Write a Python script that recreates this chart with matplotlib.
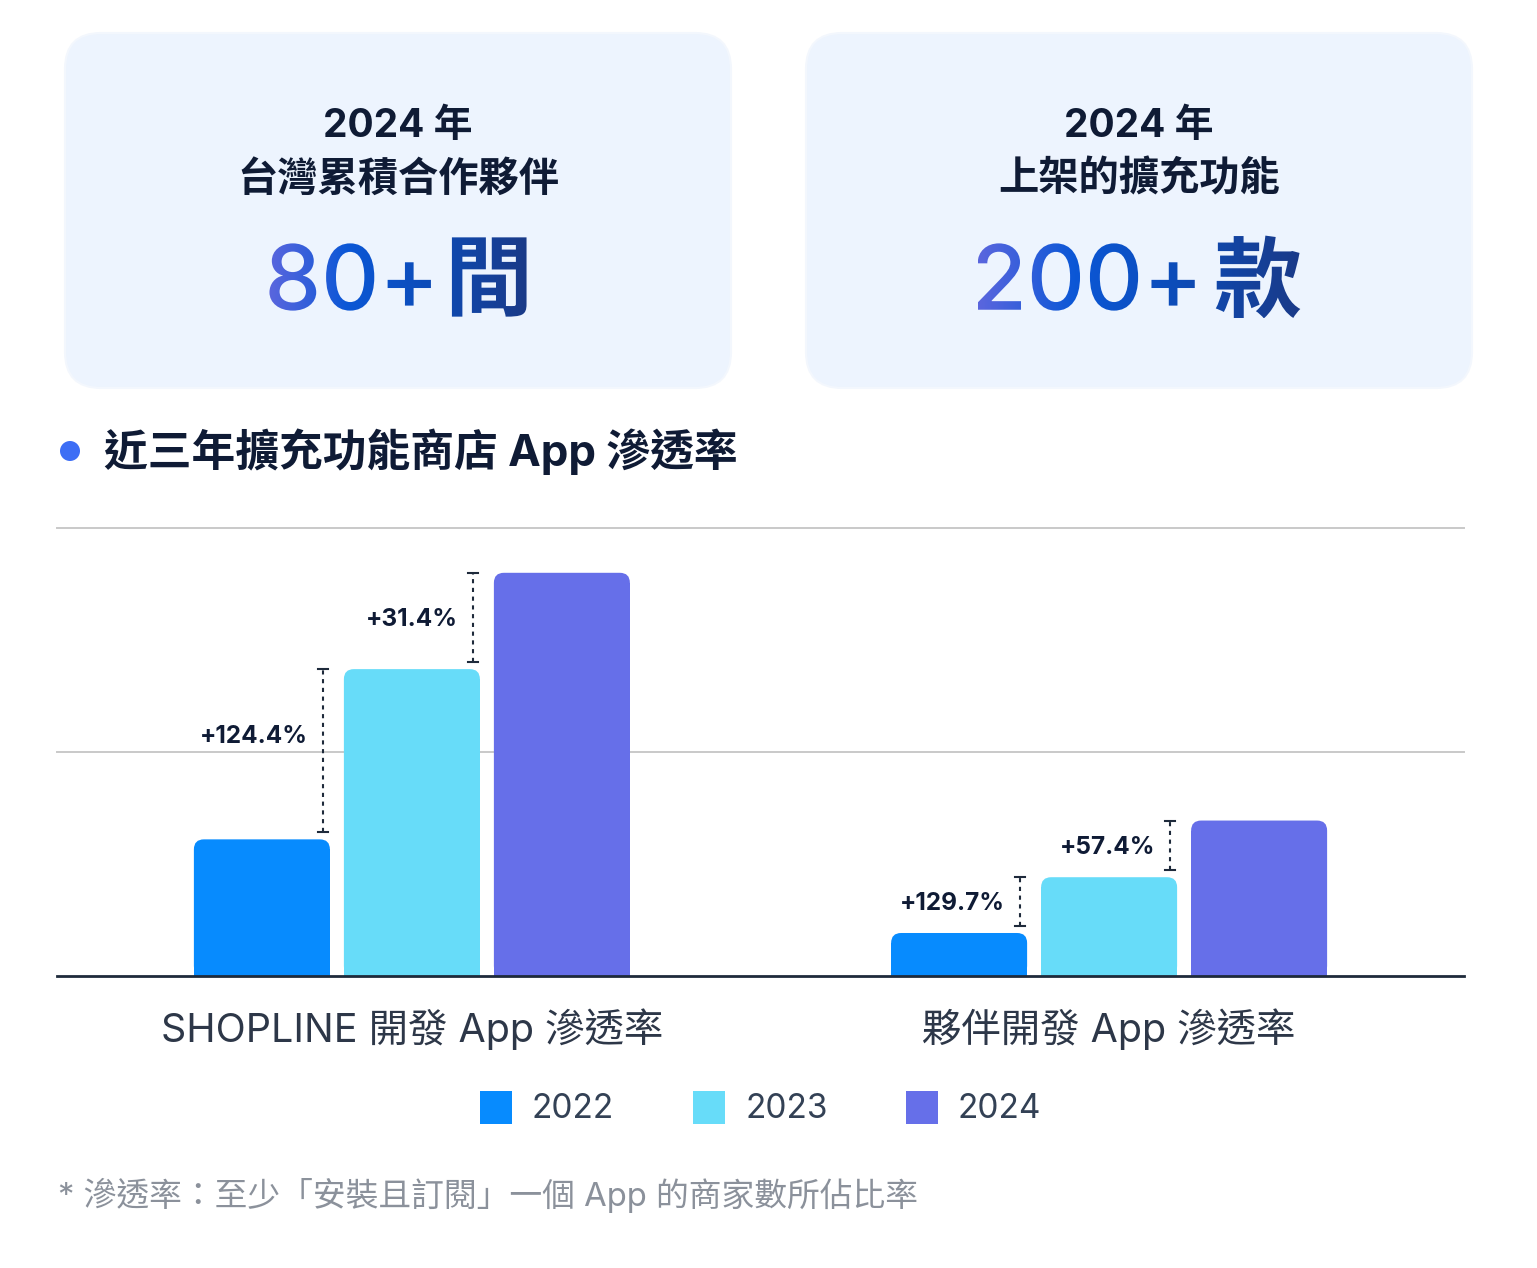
import numpy as np
import matplotlib
matplotlib.use("Agg")
import matplotlib.pyplot as plt
from matplotlib.patches import FancyBboxPatch, Rectangle, PathPatch, Circle
from matplotlib.textpath import TextPath
from matplotlib.font_manager import FontProperties
from matplotlib.path import Path
from matplotlib.transforms import Affine2D
from matplotlib.colors import LinearSegmentedColormap

plt.rcParams['font.family'] = ['Inter', 'Noto Sans CJK TC', 'DejaVu Sans']

# ---------------- data ----------------
categories = ["SHOPLINE 開發 App 滲透率", "夥伴開發 App 滲透率"]
years = ["2022", "2023", "2024"]
values_2022 = [12.2, 3.84]
values_2023 = [27.4, 8.82]
values_2024 = [36.0, 13.88]
growth_labels = [["+124.4%", "+31.4%"], ["+129.7%", "+57.4%"]]

card_titles = [["2024 年", "台灣累積合作夥伴"], ["2024 年", "上架的擴充功能"]]
card_numbers = ["80+", "200+"]
card_units = ["間", "款"]
chart_title = "近三年擴充功能商店 App 滲透率"
footnote = "* 滲透率：至少「安裝且訂閱」一個 App 的商家數所佔比率"

# ---------------- style ----------------
W, H = 1537, 1268
colors = ["#078bfe", "#67dcf9", "#666fe9"]
navy = "#0f1b35"

fig = plt.figure(figsize=(W / 100, H / 100), dpi=100)
fig.patch.set_facecolor("white")

# overlay axes in pixel coordinates (origin top-left)
ov = fig.add_axes([0, 0, 1, 1])
ov.set_axis_off()

# cards
card_boxes = [(65, 33, 666, 355), (806, 33, 666, 355)]
for (x, y, w, h) in card_boxes:
    ov.add_patch(FancyBboxPatch((x, y), w, h, boxstyle="round,pad=0,rounding_size=36",
                                facecolor="#edf4fe", edgecolor="#f3f7fd", lw=1.5))

fp_num = FontProperties(family="Inter", weight="medium")
fp_unit = FontProperties(family="Noto Sans CJK TC", weight="bold")
grad_cmap = LinearSegmentedColormap.from_list(
    "g", [(0, "#5a66de"), (0.3, "#0b57d6"), (0.62, "#0d4cb8"), (1.0, "#1a3a88")])


def gradient_text(ax, num, unit, cx, cy, size_num, size_unit, gap):
    tp1 = TextPath((0, 0), num, size=size_num, prop=fp_num)
    e1 = tp1.get_extents()
    tp2 = TextPath((0, 0), unit, size=size_unit, prop=fp_unit)
    e2 = tp2.get_extents()
    dy = (e1.y0 + e1.y1) / 2 - (e2.y0 + e2.y1) / 2
    tp2 = Affine2D().translate(e1.x1 + gap - e2.x0, dy).transform_path(tp2)
    comp = Path.make_compound_path(tp1, tp2)
    ext = comp.get_extents()
    tr = (Affine2D().translate(-(ext.x0 + ext.x1) / 2, -(ext.y0 + ext.y1) / 2)
          .scale(1, -1).translate(cx, cy))
    path = tr.transform_path(comp)
    patch = PathPatch(path, facecolor="none", edgecolor="none")
    ax.add_patch(patch)
    bb = path.get_extents()
    grad = np.linspace(0, 1, 256).reshape(1, -1)
    im = ax.imshow(grad, cmap=grad_cmap, extent=[bb.x0, bb.x1, bb.y1, bb.y0],
                   aspect="auto", interpolation="bicubic", zorder=3)
    im.set_clip_path(patch)


card_cx = [398, 1139]
for i in range(2):
    ov.text(card_cx[i], 127, card_titles[i][0], ha="center", va="center",
            fontsize=28, fontweight="bold", color=navy)
    ov.text(card_cx[i], 179, card_titles[i][1], ha="center", va="center",
            fontsize=29, fontweight="bold", color=navy,
            family=["Noto Sans CJK TC", "DejaVu Sans"])
    gradient_text(ov, card_numbers[i], card_units[i], card_cx[i], 277, 90, 88, 21)

# chart title
ov.add_patch(Circle((70, 451), 10, facecolor="#3d6ef5", edgecolor="none"))
ov.text(104, 452, chart_title, ha="left", va="center", fontsize=31.5,
        fontweight="bold", color=navy)

# legend
leg_x = [480, 693, 906]
for i, yr in enumerate(years):
    ov.add_patch(Rectangle((leg_x[i], 1091), 32, 33, facecolor=colors[i], edgecolor="none"))
    ov.text(leg_x[i] + 52, 1109, yr, ha="left", va="center", fontsize=24, color="#334155")

# footnote
ov.text(58, 1195, footnote, ha="left", va="center", fontsize=23.6, color="#8b919b")

ov.set_xlim(0, W)
ov.set_ylim(H, 0)

# ---------------- chart ----------------
ax_left, ax_right, ax_base, ax_top = 57, 1464, 976, 528
ax = fig.add_axes([ax_left / W, (H - ax_base) / H, (ax_right - ax_left) / W,
                   (ax_base - ax_top) / H])
ax.set_facecolor("none")
xmin, xmax = -0.509, 1.509
ymax = 40
ax.set_xlim(xmin, xmax)
ax.set_ylim(0, ymax)
for s in ax.spines.values():
    s.set_visible(False)
ax.set_yticks([])

px_x = (ax_right - ax_left) / (xmax - xmin)
px_y = (ax_base - ax_top) / ymax

for gy in [ymax / 2, ymax]:
    ax.axhline(gy, color="#c9c9c9", lw=1.4, clip_on=False, zorder=0)

bw = 136 / px_x
offs = np.array([-150, 0, 150]) / px_x
r_px = 10
rx, ry = r_px / px_x, r_px / px_y
series = [values_2022, values_2023, values_2024]

x_groups = np.arange(len(categories))
for j, vals in enumerate(series):
    for i, v in enumerate(vals):
        x0 = x_groups[i] + offs[j] - bw / 2
        ax.add_patch(FancyBboxPatch((x0, 0), bw, v,
                                    boxstyle=f"round,pad=0,rounding_size={rx}",
                                    mutation_aspect=ry / rx,
                                    facecolor=colors[j], edgecolor="none", zorder=2))
        ax.add_patch(Rectangle((x0, 0), bw, v - ry, facecolor=colors[j],
                               edgecolor="none", zorder=2))

ax.axhline(0, color="#1e2a3b", lw=2, zorder=5, clip_on=False)

# growth annotations
cap = 5 / px_x
gap_low = 7 / px_y
label_frac = [[0.6, 0.5], [0.5, 0.5]]
for i in range(len(categories)):
    for k in range(2):
        low = series[k][i]
        high = series[k + 1][i]
        xl = x_groups[i] + offs[k] + bw / 2 - 7 / px_x
        y0 = low + gap_low
        y1 = high
        ax.plot([xl, xl], [y0, y1], color="#1e2a3b", lw=1.5, linestyle=(0, (2, 2.2)),
                zorder=4, solid_capstyle="butt")
        for yy in (y0, y1):
            ax.plot([xl - cap, xl + cap], [yy, yy], color="#1e2a3b", lw=1.5, zorder=4)
        ly = y0 + label_frac[i][k] * (y1 - y0)
        ax.text(xl - 15 / px_x, ly - 0.15, growth_labels[i][k], ha="right", va="center",
                fontsize=17.5, fontweight="bold", color=navy)

ax.set_xticks(x_groups)
ax.set_xticklabels(categories, fontsize=28.4, color="#2d3748")
ax.tick_params(axis="x", length=0, pad=23)

fig.savefig("out.png", dpi=100, facecolor="white")
